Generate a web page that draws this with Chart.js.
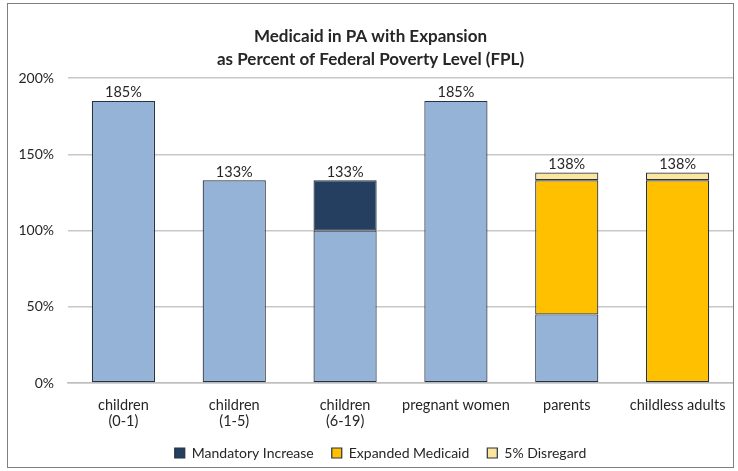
<!DOCTYPE html>
<html lang="en">
<head>
    <meta charset="UTF-8">
    <title>Medicaid in PA with Expansion</title>
    <script src="https://cdn.jsdelivr.net/npm/chart.js"></script>
    <style>
        body { margin: 0; background: #fff; }
        #frame {
            position: absolute;
            left: 7px; top: 3px;
            width: 725px; height: 463px;
            border: 1px solid #7f7f7f;
        }
        canvas { display: block; }
    </style>
</head>
<body>
    <div id="frame"><canvas id="fplChart" width="725" height="463"></canvas></div>

    <script>
        // values (% of FPL); null = no segment
        const groups = [['children', '(0-1)'], ['children', '(1-5)'], ['children', '(6-19)'], 'pregnant women', 'parents', 'childless adults'];
        const baseLevel = [185, 133, 100, 185, 45, null];
        const mandatoryIncrease = [null, null, 33, null, null, null];
        const expandedMedicaid = [null, null, null, null, 88, 133];
        const disregard = [null, null, null, null, 5, 5];
        const yTicks = [0, 50, 100, 150, 200];

        const fontFamily = 'Lato, "Open Sans", sans-serif';
        const textColor = '#262626';

        // pick a font size so a sample string is about as wide as in the original (Calibri)
        const measureCtx = document.createElement('canvas').getContext('2d');
        function fitSize(text, weight, width) {
            measureCtx.font = weight + ' 20px ' + fontFamily;
            return Math.round(20 * width / measureCtx.measureText(text).width * 2) / 2;
        }
        const titleSize = fitSize('as Percent of Federal Poverty Level (FPL)', 'bold', 306);
        const xTickSize = fitSize('pregnant women', 'normal', 106);
        const yTickSize = fitSize('200%', 'normal', 35);
        const legendSize = fitSize('Mandatory Increase', 'normal', 122);
        const labelSize = fitSize('185%', 'normal', 37);

        // draws the total of each stack above the bar
        const totalsPlugin = {
            id: 'totals',
            afterDatasetsDraw(chart) {
                const ctx = chart.ctx;
                const yScale = chart.scales.y;
                const xScale = chart.scales.x;
                ctx.save();
                ctx.font = labelSize + 'px ' + fontFamily;
                ctx.fillStyle = textColor;
                ctx.textAlign = 'center';
                ctx.textBaseline = 'bottom';
                groups.forEach((g, i) => {
                    const total = (baseLevel[i] || 0) + (mandatoryIncrease[i] || 0) + (expandedMedicaid[i] || 0) + (disregard[i] || 0);
                    ctx.fillText(total + '%', xScale.getPixelForValue(i), yScale.getPixelForValue(total) - 1);
                });
                ctx.restore();
            }
        };

        // legend padding is wide (for item spacing), so keep its box short and place it by hand
        const legendPad = 18;
        const legendPlugin = {
            id: 'legendPlace',
            beforeLayout(chart) {
                const lg = chart.legend;
                if (lg && !lg._fixedHeight) {
                    const fit = lg.fit;
                    lg.fit = function () {
                        fit.call(this);
                        this.height = 36;
                    };
                    lg._fixedHeight = true;
                }
            },
            afterLayout(chart) {
                const lg = chart.legend;
                const h = lg.bottom - lg.top;
                lg.top = 449 - legendPad - Math.max(legendSize, 10) / 2;
                lg.bottom = lg.top + h;
                lg.left += 10;
                lg.right += 10;
            }
        };

        const barDefaults = {
            borderColor: '#2a3240',
            borderWidth: 1.2,
            borderSkipped: false,
            barPercentage: 0.57,
            categoryPercentage: 1.0
        };

        new Chart(document.getElementById('fplChart'), {
            type: 'bar',
            data: {
                labels: groups,
                datasets: [
                    { ...barDefaults, label: 'Base', data: baseLevel, backgroundColor: '#95b3d7' },
                    { ...barDefaults, label: 'Mandatory Increase', data: mandatoryIncrease, backgroundColor: '#243f60' },
                    { ...barDefaults, label: 'Expanded Medicaid', data: expandedMedicaid, backgroundColor: '#ffc000' },
                    { ...barDefaults, label: '5% Disregard', data: disregard, backgroundColor: '#fce59d' }
                ]
            },
            options: {
                responsive: false,
                animation: false,
                layout: { padding: { left: 0, right: 0, top: 4, bottom: 0 } },
                plugins: {
                    title: {
                        display: true,
                        text: ['Medicaid in PA with Expansion', 'as Percent of Federal Poverty Level (FPL)'],
                        color: textColor,
                        font: { family: fontFamily, size: titleSize, weight: 'bold', lineHeight: '23px' },
                        padding: { top: 17, bottom: 7 }
                    },
                    legend: {
                        position: 'bottom',
                        labels: {
                            filter: item => item.text !== 'Base',
                            color: textColor,
                            font: { family: fontFamily, size: legendSize },
                            boxWidth: 10,
                            boxHeight: 10,
                            padding: legendPad
                        }
                    },
                    tooltip: { enabled: false }
                },
                scales: {
                    x: {
                        stacked: true,
                        afterFit: scale => {
                            scale.height = 48;
                            // the last label may spill past the plot edge; don't shrink the plot for it
                            scale.paddingLeft = 0;
                            scale.paddingRight = 0;
                        },
                        grid: { display: false, drawTicks: false },
                        border: { color: '#bfbfbf', width: 1.5 },
                        ticks: {
                            color: textColor,
                            font: { family: fontFamily, size: xTickSize, lineHeight: '16px' },
                            padding: 14,
                            maxRotation: 0
                        }
                    },
                    y: {
                        stacked: true,
                        min: 0,
                        max: 200,
                        afterBuildTicks: scale => { scale.ticks = yTicks.map(v => ({ value: v })); },
                        afterFit: scale => { scale.width = 60; },
                        grid: { color: '#c8c8c8', lineWidth: 1.5, drawTicks: false },
                        border: { display: false },
                        ticks: {
                            color: textColor,
                            font: { family: fontFamily, size: yTickSize },
                            padding: 14,
                            callback: v => v + '%'
                        }
                    }
                }
            },
            plugins: [totalsPlugin, legendPlugin]
        });
    </script>
</body>
</html>
